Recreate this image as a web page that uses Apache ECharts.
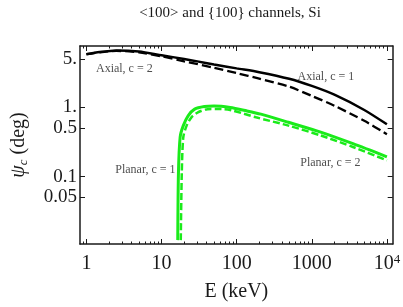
<!DOCTYPE html>
<html>
<head>
<meta charset="utf-8">
<script src="https://cdn.jsdelivr.net/npm/echarts@6/dist/echarts.min.js"></script>
<style>html,body{margin:0;padding:0;background:#fff}#c{width:403px;height:307px}</style>
</head>
<body>
<div id="c"></div>
<script>
const titleText = '<100> and {100} channels, Si';
const xName = 'E (keV)';
const yName = '{psi|ψ}{sub|c} (deg)';

const xTickValues = [1, 10, 100, 1000, 10000];
const xTickLabels = ['1', '10', '100', '1000', '10{sup|4}'];
const xMinorTickValues = [0.9, 2, 3, 4, 5, 6, 7, 8, 9, 20, 30, 40, 50, 60, 70, 80, 90,
  200, 300, 400, 500, 600, 700, 800, 900, 2000, 3000, 4000, 5000, 6000, 7000, 8000, 9000];
const yTickValues = [0.05, 0.1, 0.5, 1, 5];
const yTickLabels = ['0.05', '0.1', '0.5', '1.', '5.'];

const energyAxialC1 = [1, 1.5, 2.5, 5, 10, 20, 30, 50, 100, 200, 500, 1000, 2000, 5000, 10000];
const psiAxialC1 = [5.9, 6.35, 6.7, 6.45, 5.7, 5.03, 4.65, 4.2, 3.68, 3.24, 2.6, 2.05, 1.53, 0.92, 0.57];

const energyAxialC2 = [1, 1.5, 2.5, 5, 10, 20, 50, 100, 200, 500, 1000, 2000, 5000, 10000];
const psiAxialC2 = [5.9, 6.3, 6.6, 6.3, 5.5, 4.66, 3.76, 3.15, 2.61, 2.0, 1.47, 1.06, 0.64, 0.41];

const energyPlanarC1 = [16.45, 16.8, 17.7, 19.5, 22.6, 27.6, 37.2, 50, 82, 135, 210, 489, 1315, 3535, 10000];
const psiPlanarC1 = [0.012, 0.111, 0.373, 0.546, 0.758, 0.946, 1.03, 1.05, 1.0, 0.894, 0.80, 0.61, 0.44, 0.299, 0.193];

const energyPlanarC2 = [18.05, 18.6, 19.5, 21.6, 25.0, 30.5, 41, 55, 82, 181, 489, 1315, 3535, 10000];
const psiPlanarC2 = [0.012, 0.111, 0.373, 0.546, 0.72, 0.849, 0.946, 0.95, 0.92, 0.72, 0.546, 0.393, 0.268, 0.171];

const noteTexts = ['Axial, c = 2', 'Axial, c = 1', 'Planar, c = 1', 'Planar, c = 2'];
const noteEnergy = [3.2, 1540, 6.1, 1770];
const notePsi = [3.61, 2.75, 0.127, 0.16];

const L = Math.log10;
const pairs = (xs, ys) => xs.map((x, i) => [L(x), L(ys[i])]);

const xMin = -0.085, xMax = 4.077, yMin = -1.977, yMax = 0.89;
const font = 'Liberation Serif, Times New Roman, serif';
const ink = '#1a1a1a';
const green = '#1aeb1a';

const frameLine = { show: true, onZero: false, lineStyle: { color: ink, width: 1.5 } };

function xAxisDef(position, ticks, len, withLabel, withLine) {
  return {
    type: 'value', position: position, min: xMin, max: xMax,
    splitLine: { show: false },
    axisLine: withLine ? frameLine : { show: false, onZero: false },
    axisTick: { show: true, inside: true, length: len, customValues: ticks.map(L), lineStyle: { color: ink, width: 1 } },
    axisLabel: withLabel ? {
      show: true, customValues: xTickValues.map(L), margin: 9,
      fontFamily: font, fontSize: 20, color: ink, lineHeight: 22,
      formatter: v => { const i = xTickValues.findIndex(t => Math.abs(L(t) - v) < 1e-6); return i >= 0 ? xTickLabels[i] : ''; },
      rich: { sup: { fontFamily: font, fontSize: 13, color: ink, lineHeight: 10, verticalAlign: 'top' } }
    } : { show: false }
  };
}
function yAxisDef(position, withLabel) {
  return {
    type: 'value', position: position, min: yMin, max: yMax,
    splitLine: { show: false },
    axisLine: frameLine,
    axisTick: { show: true, inside: true, length: 5, customValues: yTickValues.map(L), lineStyle: { color: ink, width: 1 } },
    axisLabel: withLabel ? {
      show: true, customValues: yTickValues.map(L), margin: 3,
      fontFamily: font, fontSize: 19, color: ink,
      formatter: v => { const i = yTickValues.findIndex(t => Math.abs(L(t) - v) < 1e-6); return i >= 0 ? yTickLabels[i] : ''; }
    } : { show: false }
  };
}

const xAxes = [
  Object.assign(xAxisDef('bottom', xTickValues, 5, true, true), {
    name: xName, nameLocation: 'middle', nameGap: 38,
    nameTextStyle: { fontFamily: font, fontSize: 20, color: ink }
  }),
  xAxisDef('bottom', xMinorTickValues, 2.5, false, false),
  xAxisDef('top', xTickValues, 5, false, true),
  xAxisDef('top', xMinorTickValues, 2.5, false, false)
];
const yAxes = [
  Object.assign(yAxisDef('left', true), {
    name: yName, nameLocation: 'middle', nameGap: 50, nameRotate: 90,
    nameTextStyle: {
      fontFamily: font, fontSize: 20, color: ink, lineHeight: 22,
      rich: {
        psi: { fontFamily: font, fontSize: 20, fontStyle: 'italic', color: ink, lineHeight: 22 },
        sub: { fontFamily: font, fontSize: 13, fontStyle: 'italic', color: ink, lineHeight: 10, verticalAlign: 'bottom' }
      }
    }
  }),
  yAxisDef('right', false)
];

function lineSeries(name, xs, ys, color, dashed, width) {
  return {
    type: 'line', name: name, xAxisIndex: 0, yAxisIndex: 0,
    data: pairs(xs, ys), showSymbol: false, symbol: 'none', smooth: 0.25,
    lineStyle: { color: color, width: width, type: dashed ? dashed : 'solid', cap: 'butt' },
    silent: true, animation: false
  };
}

const option = {
  animation: false,
  backgroundColor: '#fff',
  title: {
    text: titleText, left: 225, top: 1, textAlign: 'center',
    textStyle: { fontFamily: font, fontSize: 15, fontWeight: 'normal', color: ink }
  },
  grid: { left: 72, right: 9, top: 46, bottom: 60, containLabel: false },
  xAxis: xAxes,
  yAxis: yAxes,
  series: [
    lineSeries('Axial, c = 1', energyAxialC1, psiAxialC1, '#000', null, 2.5),
    lineSeries('Axial, c = 2', energyAxialC2, psiAxialC2, '#000', [9, 4], 2.3),
    lineSeries('Planar, c = 1', energyPlanarC1, psiPlanarC1, green, null, 3),
    lineSeries('Planar, c = 2', energyPlanarC2, psiPlanarC2, green, [7, 3], 2.5),
    {
      type: 'scatter', xAxisIndex: 0, yAxisIndex: 0, symbolSize: 0, silent: true,
      data: noteTexts.map((t, i) => ({ value: [L(noteEnergy[i]), L(notePsi[i])], name: t })),
      label: { show: true, position: 'inside', formatter: p => p.name, fontFamily: font, fontSize: 12, color: '#222' }
    }
  ]
};

const chart = echarts.init(document.getElementById('c'), null, { renderer: 'canvas' });
chart.setOption(option);
</script>
</body>
</html>
